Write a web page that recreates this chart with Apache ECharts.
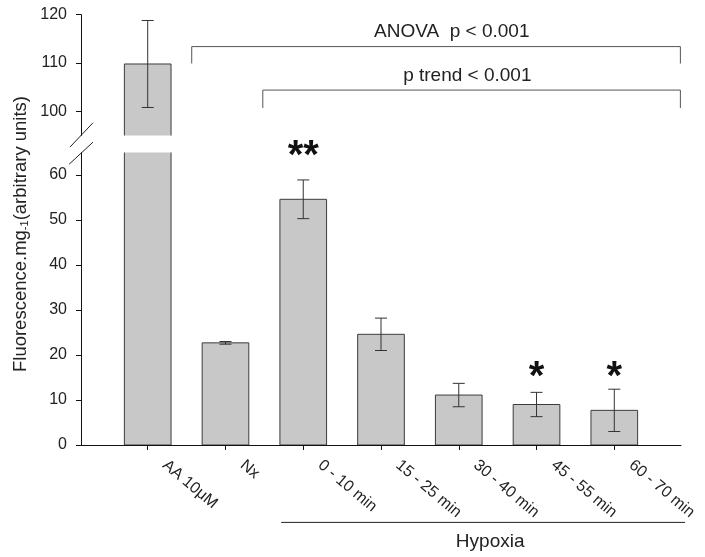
<!DOCTYPE html>
<html>
<head>
<meta charset="utf-8">
<script src="https://cdn.jsdelivr.net/npm/echarts@6/dist/echarts.min.js"></script>
<style>html,body{margin:0;padding:0;background:#fff}#c{width:705px;height:557px}</style>
</head>
<body>
<div id="c"></div>
<script>
const categories = ['AA 10μM', 'Nx', '0 - 10 min', '15 - 25 min', '30 - 40 min', '45 - 55 min', '60 - 70 min'];
const means = [109.8, 22.7, 54.6, 24.6, 11.1, 9.0, 7.7];
const errors = [9.0, 0.3, 4.3, 3.6, 2.6, 2.7, 4.7];
const stars = ['', '', '**', '', '', '*', '*'];
const lowerTicks = [0, 10, 20, 30, 40, 50, 60];
const upperTicks = [100, 110, 120];
const catIdx = categories.map((c, i) => i);

const FONT = "'Liberation Sans', Arial, sans-serif";
const TXT = '#222';
const X_MIN = -0.858, X_MAX = 6.858;

const barData = means.map((m, i) => [i, m, errors[i]]);

function renderBar(params, api) {
  const i = api.value(0), m = api.value(1), e = api.value(2);
  const base = api.coord([i, 0]);
  const top = api.coord([i, m]);
  const w = api.size([0.6, 0])[0];
  const eTop = api.coord([i, m + e]);
  const eBot = api.coord([i, m - e]);
  const cap = 6;
  const ls = { stroke: '#333', lineWidth: 1 };
  return {
    type: 'group',
    children: [
      { type: 'rect', shape: { x: base[0] - w / 2, y: top[1], width: w, height: base[1] - top[1] },
        style: { fill: '#c8c8c9', stroke: '#3c3c3c', lineWidth: 1 } },
      { type: 'line', shape: { x1: eTop[0], y1: eTop[1], x2: eBot[0], y2: eBot[1] }, style: ls },
      { type: 'line', shape: { x1: eTop[0] - cap, y1: eTop[1], x2: eTop[0] + cap, y2: eTop[1] }, style: ls },
      { type: 'line', shape: { x1: eBot[0] - cap, y1: eBot[1], x2: eBot[0] + cap, y2: eBot[1] }, style: ls }
    ]
  };
}

const chart = echarts.init(document.getElementById('c'), null, { renderer: 'canvas' });

const axisLineStyle = { show: true, onZero: false, lineStyle: { color: '#111', width: 1 } };

chart.setOption({
  animation: false,
  backgroundColor: '#fff',
  textStyle: { fontFamily: FONT },
  grid: [
    { left: 81, right: 24, top: 14.7, height: 120.8, outerBoundsMode: 'none' },
    { left: 81, right: 24, top: 152.5, height: 292.5, outerBoundsMode: 'none' }
  ],
  xAxis: [
    { gridIndex: 0, type: 'value', min: X_MIN, max: X_MAX, show: false },
    { gridIndex: 1, type: 'value', min: X_MIN, max: X_MAX,
      axisLine: axisLineStyle,
      axisTick: { show: true, length: 5, customValues: catIdx, lineStyle: { color: '#111' } },
      axisLabel: { customValues: catIdx, formatter: v => categories[Math.round(v)], rotate: -40,
        fontSize: 16, color: TXT, fontFamily: FONT, margin: 4, padding: [0, 0, 0, 22] },
      splitLine: { show: false } }
  ],
  yAxis: [
    { gridIndex: 0, type: 'value', min: 95, max: 120,
      axisLine: axisLineStyle,
      axisTick: { show: true, length: 5, customValues: upperTicks, lineStyle: { color: '#111' } },
      axisLabel: { customValues: upperTicks, fontSize: 16, color: TXT, fontFamily: FONT, margin: 14 },
      splitLine: { show: false } },
    { gridIndex: 1, type: 'value', min: 0, max: 65,
      axisLine: axisLineStyle,
      axisTick: { show: true, length: 5, customValues: lowerTicks, lineStyle: { color: '#111' } },
      axisLabel: { customValues: lowerTicks, fontSize: 16, color: TXT, fontFamily: FONT, margin: 14 },
      splitLine: { show: false } }
  ],
  series: [
    { type: 'custom', xAxisIndex: 0, yAxisIndex: 0, clip: true, data: barData, renderItem: renderBar },
    { type: 'custom', xAxisIndex: 1, yAxisIndex: 1, clip: true, data: barData, renderItem: renderBar },
    // significance stars
    { type: 'custom', xAxisIndex: 1, yAxisIndex: 1, clip: false, z: 5,
      data: barData,
      renderItem: function (params, api) {
        const i = api.value(0);
        const s = stars[i];
        if (!s) return null;
        const level = s.length === 2 ? 65.6 : 16.4;
        const p = api.coord([i, level]);
        return { type: 'text', style: { text: s, x: p[0], y: p[1] + 7, fill: '#111',
          fontSize: 40, fontWeight: 'bold', fontFamily: FONT, align: 'center', verticalAlign: 'middle' } };
      } },
    // brackets (upper grid)
    { type: 'custom', xAxisIndex: 0, yAxisIndex: 0, clip: false, z: 5,
      data: [[0]],
      renderItem: function (params, api) {
        const st = { stroke: '#555', lineWidth: 1, fill: null };
        const a = [api.coord([0.566, 109.9]), api.coord([0.566, 113.4]), api.coord([6.85, 113.4]), api.coord([6.85, 109.9])];
        const b = [api.coord([1.48, 100.7]), api.coord([1.48, 104.4]), api.coord([6.85, 104.4]), api.coord([6.85, 100.7])];
        const ta = api.coord([3.91, 116.5]);
        const tb = api.coord([4.11, 107.3]);
        return { type: 'group', children: [
          { type: 'polyline', shape: { points: a }, style: st },
          { type: 'polyline', shape: { points: b }, style: st },
          { type: 'text', style: { text: 'ANOVA  p < 0.001', x: ta[0], y: ta[1], fill: TXT, fontSize: 19, fontFamily: FONT, align: 'center', verticalAlign: 'middle' } },
          { type: 'text', style: { text: 'p trend < 0.001', x: tb[0], y: tb[1], fill: TXT, fontSize: 19, fontFamily: FONT, align: 'center', verticalAlign: 'middle' } }
        ] };
      } },
    // hypoxia line, label and axis break marks (lower grid)
    { type: 'custom', xAxisIndex: 1, yAxisIndex: 1, clip: false, z: 5,
      data: [[0]],
      renderItem: function (params, api) {
        const st = { stroke: '#222', lineWidth: 1, fill: null };
        const h1 = api.coord([1.716, -17.2]);
        const h2 = api.coord([6.91, -17.2]);
        const ht = api.coord([4.404, -21.5]);
        const s1a = api.coord([-1.0, 66.2]), s1b = api.coord([-0.704, 71.6]);
        const s2a = api.coord([-1.01, 62.4]), s2b = api.coord([-0.704, 67.3]);
        return { type: 'group', children: [
          { type: 'line', shape: { x1: h1[0], y1: h1[1], x2: h2[0], y2: h2[1] }, style: st },
          { type: 'text', style: { text: 'Hypoxia', x: ht[0], y: ht[1], fill: TXT, fontSize: 19, fontFamily: FONT, align: 'center', verticalAlign: 'middle' } },
          { type: 'line', shape: { x1: s1a[0], y1: s1a[1], x2: s1b[0], y2: s1b[1] }, style: st },
          { type: 'line', shape: { x1: s2a[0], y1: s2a[1], x2: s2b[0], y2: s2b[1] }, style: st }
        ] };
      } }
  ],
  graphic: [
    { type: 'text', x: 21, y: 234, rotation: Math.PI / 2,
      style: { text: '{a|Fluorescence.mg}{s|-1}{a|(arbitrary units)}', align: 'center', verticalAlign: 'middle',
        rich: { a: { fontSize: 18.5, fontFamily: FONT, fill: TXT, color: TXT },
                s: { fontSize: 11, fontFamily: FONT, fill: TXT, color: TXT, padding: [8, 0, 0, 0] } } } }
  ]
});
</script>
</body>
</html>
